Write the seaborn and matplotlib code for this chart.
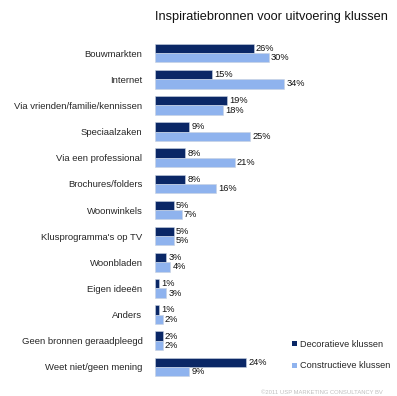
import matplotlib
matplotlib.use("Agg")
import matplotlib.pyplot as plt
import seaborn as sns
import pandas as pd
from matplotlib.patches import Patch

categories = ["Bouwmarkten", "Internet", "Via vrienden/familie/kennissen", "Speciaalzaken",
              "Via een professional", "Brochures/folders", "Woonwinkels",
              "Klusprogramma's op TV", "Woonbladen", "Eigen ideeën", "Anders",
              "Geen bronnen geraadpleegd", "Weet niet/geen mening"]
decoratief = [26, 15, 19, 9, 8, 8, 5, 5, 3, 1, 1, 2, 24]
constructief = [30, 34, 18, 25, 21, 16, 7, 5, 4, 3, 2, 2, 9]
series = ["Decoratieve klussen", "Constructieve klussen"]
colors = ["#0a2766", "#8fb3ee"]

df = pd.DataFrame({
    "cat": categories * 2,
    "val": decoratief + constructief,
    "serie": [series[0]] * len(categories) + [series[1]] * len(categories),
})

sns.set_style("white")
plt.rcParams["font.family"] = ["Liberation Sans", "DejaVu Sans"]

fig = plt.figure(figsize=(3.97, 3.96), dpi=100)
ax = fig.add_axes([155 / 397, 1 - 380 / 396, 152 / 397, 340 / 396])

sns.barplot(data=df, y="cat", x="val", hue="serie", order=categories,
            hue_order=series, palette=colors, width=0.71, ax=ax,
            legend=False, edgecolor="#c8d2e0", linewidth=0.4, saturation=1)

for cont in ax.containers:
    ax.bar_label(cont, labels=[f"{int(v)}%" for v in cont.datavalues],
                 padding=1.5, fontsize=6.7, color="#111111")

ax.set_xlim(0, 40)
ax.set_ylim(12.5, -0.5)
ax.set_xlabel("")
ax.set_ylabel("")
ax.set_xticks([])
ax.tick_params(axis="y", length=0, pad=9, labelsize=6.8)
for s in ax.spines.values():
    s.set_visible(False)

fig.text(155 / 397, 1 - 17 / 396, "Inspiratiebronnen voor uitvoering klussen",
         ha="left", va="center", fontsize=9.2, color="#111111")

handles = [Patch(facecolor=c, edgecolor="none") for c in colors]
fig.legend(handles, series, loc="center left", bbox_to_anchor=(284 / 397, 1 - 355 / 396),
           frameon=False, fontsize=6.6, handlelength=0.5, handleheight=0.5,
           handletextpad=0.3, labelspacing=1.4)

fig.text(383 / 397, 1 - 392 / 396, "©2011 USP MARKETING CONSULTANCY BV",
         ha="right", va="center", fontsize=4.2, color="#c0c0c0")

fig.savefig("out.png", dpi=100)
